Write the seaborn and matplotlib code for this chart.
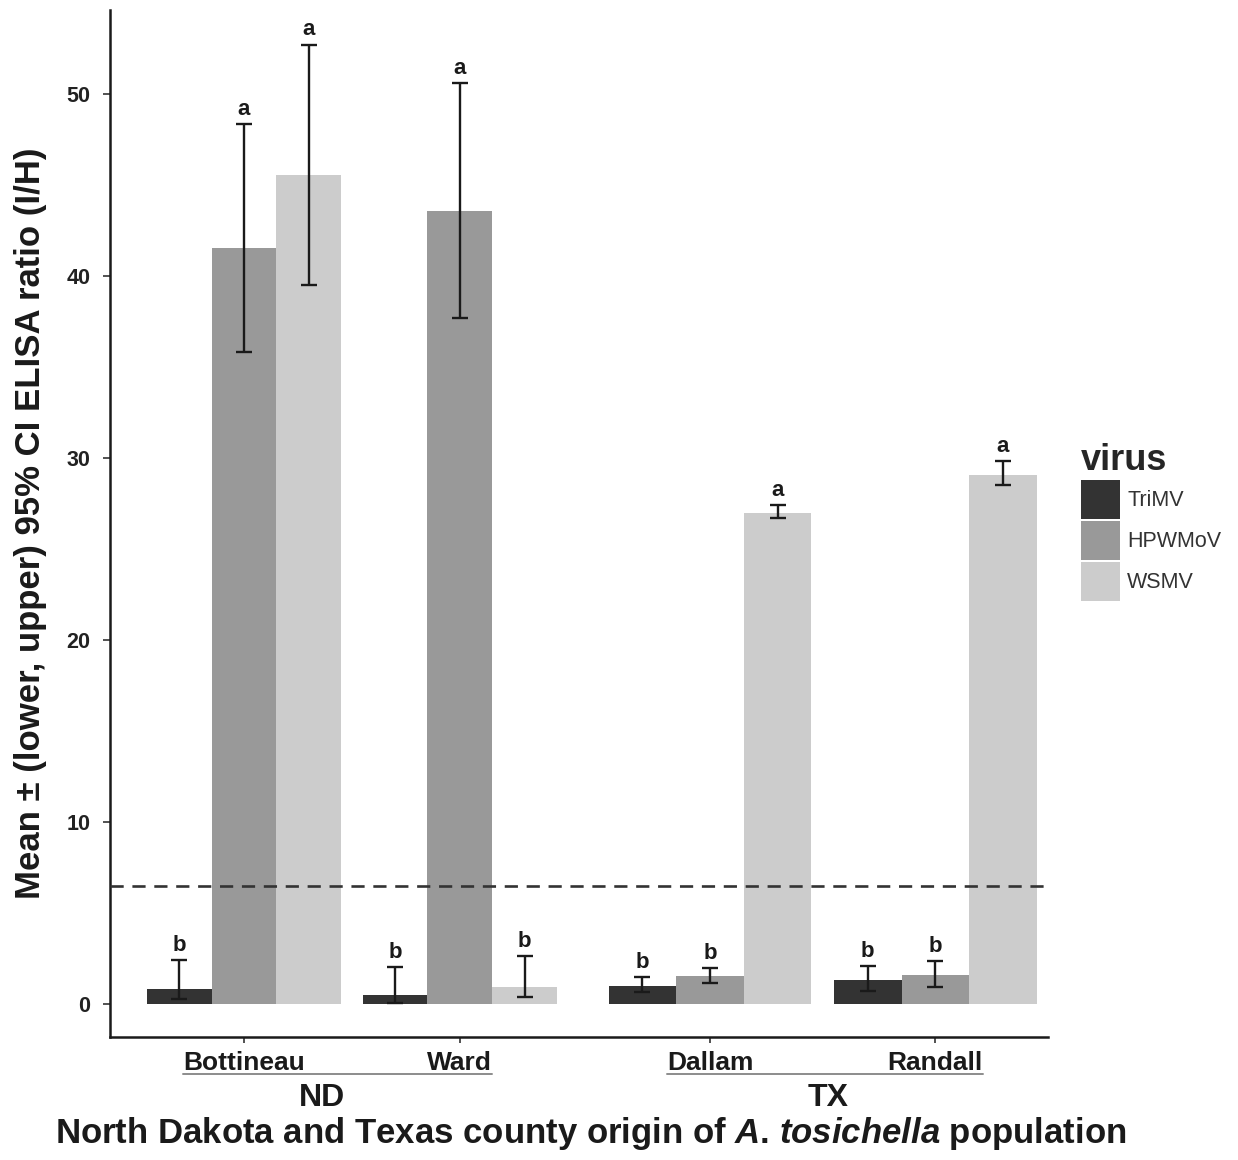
import matplotlib
matplotlib.use("Agg")
import matplotlib.pyplot as plt
from matplotlib.patches import Patch
from matplotlib.lines import Line2D
import numpy as np
import pandas as pd
import seaborn as sns

# ---- data -------------------------------------------------------------
states = ["ND", "ND", "TX", "TX"]
counties = ["Bottineau", "Ward", "Dallam", "Randall"]
viruses = ["TriMV", "HPWMoV", "WSMV"]

mean_trimv = [0.83, 0.50, 1.00, 1.32]
lower_trimv = [0.28, 0.04, 0.68, 0.71]
upper_trimv = [2.44, 2.06, 1.47, 2.09]

mean_hpwmov = [41.55, 43.58, 1.54, 1.63]
lower_hpwmov = [35.84, 37.70, 1.17, 0.95]
upper_hpwmov = [48.35, 50.60, 2.00, 2.38]

mean_wsmv = [45.55, 0.92, 26.97, 29.05]
lower_wsmv = [39.50, 0.37, 26.71, 28.50]
upper_wsmv = [52.70, 2.66, 27.43, 29.82]

letters_trimv = ["b", "b", "b", "b"]
letters_hpwmov = ["a", "a", "b", "b"]
letters_wsmv = ["a", "b", "a", "a"]

threshold = 6.5
virus_colors = ["#333333", "#999999", "#cccccc"]

# ---- long table -------------------------------------------------------
rows = []
for v, m, lo, up, let in [
    ("TriMV", mean_trimv, lower_trimv, upper_trimv, letters_trimv),
    ("HPWMoV", mean_hpwmov, lower_hpwmov, upper_hpwmov, letters_hpwmov),
    ("WSMV", mean_wsmv, lower_wsmv, upper_wsmv, letters_wsmv),
]:
    for s, c, mi, li, ui, ti in zip(states, counties, m, lo, up, let):
        rows.append(dict(state=s, county=c, virus=v, mean=mi,
                         lower=li, upper=ui, letter=ti))
df = pd.DataFrame(rows)

# ---- style ------------------------------------------------------------
sns.set_theme(style="ticks")
plt.rcParams["font.family"] = ["Liberation Sans", "DejaVu Sans"]
plt.rcParams["mathtext.fontset"] = "custom"
plt.rcParams["mathtext.it"] = "Liberation Sans:italic:bold"
plt.rcParams["mathtext.rm"] = "Liberation Sans:bold"

W, H = 1238, 1160
fig = plt.figure(figsize=(W / 100, H / 100), dpi=100)

ink = "#1a1a1a"
bottom, top = 1 - 1037 / H, 1 - 10 / H
panels = {
    "ND": dict(left=110, right=583, xlim=(-0.62, 1.57)),
    "TX": dict(left=583, right=1048, xlim=(-0.564, 1.50)),
}
span_ratio = (panels["TX"]["right"] - panels["ND"]["left"]) / (
    panels["ND"]["right"] - panels["ND"]["left"])

axes = {}
for i, st in enumerate(["ND", "TX"]):
    p = panels[st]
    ax = fig.add_axes([p["left"] / W, bottom, (p["right"] - p["left"]) / W, top - bottom])
    axes[st] = ax
    sub = df[df["state"] == st]
    order = [c for s, c in zip(states, counties) if s == st]
    sns.barplot(data=sub, x="county", y="mean", hue="virus", order=order,
                hue_order=viruses, palette=virus_colors, width=0.9, gap=0,
                saturation=1, errorbar=None, legend=False, ax=ax,
                edgecolor="none", linewidth=0)

    # error bars and significance letters placed on the drawn bars
    for v, cont in zip(viruses, ax.containers):
        vsub = sub[sub["virus"] == v].set_index("county").loc[order]
        xs = [b.get_x() + b.get_width() / 2 for b in cont]
        means = vsub["mean"].to_numpy()
        lo = vsub["lower"].to_numpy()
        up = vsub["upper"].to_numpy()
        ax.errorbar(xs, means, yerr=[means - lo, up - means], fmt="none",
                    ecolor=ink, elinewidth=1.7, capsize=5.5, capthick=1.7,
                    zorder=3)
        for x, u, t in zip(xs, up, vsub["letter"]):
            ax.annotate(t, (x, u), xytext=(0, 3), textcoords="offset points",
                        ha="center", va="bottom", fontsize=16,
                        fontweight="bold", color=ink)

    ax.set_xlim(*p["xlim"])
    ax.set_ylim(-1.8, 54.6)
    ax.set_xlabel("")
    ax.set_ylabel("")
    ax.tick_params(axis="x", length=4, width=1.2, color="#333333", pad=6,
                   labelsize=19, labelcolor=ink)
    for lab in ax.get_xticklabels():
        lab.set_fontweight("bold")
    ax.spines["top"].set_visible(False)
    ax.spines["right"].set_visible(False)
    ax.set_facecolor("none")
    if st == "ND":
        # threshold line and x axis line run continuously under both panels
        ax.axhline(threshold, xmin=0, xmax=span_ratio, clip_on=False,
                   color="#333333", linestyle=(0, (5, 3.3)),
                   linewidth=1.9, zorder=4)
        x_end = p["xlim"][0] + (p["xlim"][1] - p["xlim"][0]) * span_ratio
        ax.spines["bottom"].set_bounds(p["xlim"][0], x_end)
        ax.spines["bottom"].set_linewidth(1.8)
        ax.spines["bottom"].set_color(ink)
        ax.set_yticks([0, 10, 20, 30, 40, 50])
        ax.tick_params(axis="y", length=5, width=1.2, color="#333333",
                       labelsize=15.5, labelcolor="#222222", pad=9)
        for lab in ax.get_yticklabels():
            lab.set_fontweight("bold")
        ax.spines["left"].set_linewidth(1.8)
        ax.spines["left"].set_color(ink)
        ax.set_ylabel("Mean \u00b1 (lower, upper) 95% CI ELISA ratio (I/H)",
                      fontsize=25, fontweight="bold", color=ink, labelpad=14)
    else:
        ax.spines["bottom"].set_visible(False)
        ax.spines["left"].set_visible(False)
        ax.set_yticks([])

# keep the threshold line drawn above the TX bars as well
axes["ND"].set_zorder(axes["TX"].get_zorder() + 1)

# ---- state grouping under county labels --------------------------------
fig.canvas.draw()
renderer = fig.canvas.get_renderer()
state_centers = {"ND": 322, "TX": 828}
line_y = 1 - 1074 / H
for st, ax in axes.items():
    labs = ax.get_xticklabels()
    x0 = labs[0].get_window_extent(renderer).x0
    x1 = labs[-1].get_window_extent(renderer).x1
    fig.add_artist(Line2D([x0 / W, x1 / W], [line_y, line_y],
                          transform=fig.transFigure, color="#8c8c8c",
                          linewidth=1.4))
    fig.text(state_centers[st] / W, 1 - 1098 / H, st, ha="center",
             va="center", fontsize=23, fontweight="bold", color=ink)

fig.text(591 / W, 1 - 1134 / H,
         r"North Dakota and Texas county origin of $\mathit{A}$. $\mathit{tosichella}$ population",
         ha="center", va="center", fontsize=25, fontweight="bold", color=ink)

# ---- legend -----------------------------------------------------------
handles = [Patch(facecolor=c, edgecolor="none") for c in virus_colors]
fig.legend(handles, viruses, title="virus", loc="upper left",
           bbox_to_anchor=(1081 / W, 1 - 443 / H), frameon=False,
           fontsize=15.5, labelcolor="#333333",
           title_fontproperties={"weight": "bold", "size": 26},
           handlelength=1.8, handleheight=2.4, handletextpad=0.35,
           labelspacing=0.1, borderpad=0, borderaxespad=0,
           alignment="left")

fig.savefig("out.png", dpi=100)
